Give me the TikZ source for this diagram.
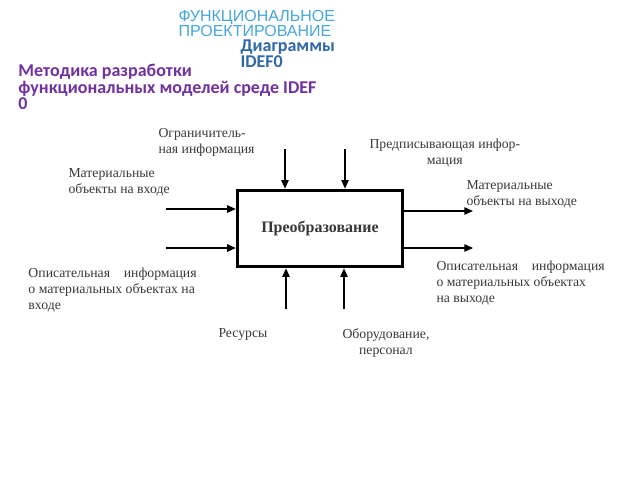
\documentclass[tikz,border=0pt]{standalone}
\usepackage{fontspec}
\setmainfont{Liberation Serif}
\newfontfamily\arialfont{Liberation Sans}
\newfontfamily\calibrifont{Carlito}
\usetikzlibrary{arrows.meta}
\definecolor{titleblue}{HTML}{45A6DA}
\definecolor{diagblue}{HTML}{2E68A8}
\definecolor{methpurple}{HTML}{7030A0}
\definecolor{labelgray}{HTML}{383838}

\tikzset{every picture/.style={line width=0.75pt}}
\tikzset{
    lbl/.style={anchor=north west,inner sep=0.75pt,align=left,text=labelgray,font=\fontsize{10.3}{12}\selectfont},
    arr/.style={line width=1.1pt,-{Triangle[length=6.5pt,width=5.5pt]}},
}

\begin{document}
\begin{tikzpicture}[x=0.75pt,y=0.75pt,yscale=-1,xscale=1]
        \useasboundingbox (0,0) rectangle (640,480);
        %Box
        \node [draw,line width=2.2pt,minimum width=124pt,minimum height=57.5pt,inner sep=0pt,font=\bfseries\fontsize{12}{14}\selectfont,text=labelgray] (preob) at (320,228.5) {Преобразование};

        %Titles
        \draw (177,9) node [anchor=north west][inner sep=0.75pt] [align=left,text=titleblue,font=\arialfont\fontsize{12}{11.3}\selectfont] (titletop) {ФУНКЦИОНАЛЬНОЕ\\ПРОЕКТИРОВАНИЕ};
        \draw (239,38) node [anchor=north west][inner sep=0.75pt] [align=left,text=diagblue,font=\calibrifont\bfseries\fontsize{13.5}{12.2}\selectfont] (titlediag) {Диаграммы\\IDEF0};
        \draw (17,63) node [anchor=north west][inner sep=0.75pt] [align=left,text=methpurple,font=\calibrifont\bfseries\fontsize{13.5}{12.4}\selectfont] (titlemeth) {Методика разработки\\функциональных моделей среде IDEF\\0};

        % Text Node
        \draw (157,127) node [lbl] (lbllimit) {Ограничитель-\\ная информация};
        % Text Node
        \draw (368,137) node [lbl,align=center] (lblpresc) {Предписывающая инфор-\\мация};
        % Text Node
        \draw (67,167) node [lbl] (lblmatin) {Материальные\\объекты на входе};
        % Text Node
        \draw (465,179) node [lbl] (lblmatout) {Материальные\\объекты на выходе};
        % Text Node
        \draw (27,266) node [lbl] (lbldescin) {Описательная\hspace{1em}информация\\о материальных объектах на\\входе};
        % Text Node
        \draw (435,259) node [lbl] (lbldescout) {Описательная\hspace{1em}информация\\о материальных объектах\\на выходе};
        % Text Node
        \draw (217,327) node [lbl] (lblres) {Ресурсы};
        % Text Node
        \draw (341,327) node [lbl,align=center] (lblequip) {Оборудование,\\персонал};

        %Arrow ends
        \coordinate (ctl1) at (285,149);
        \coordinate (ctl2) at (345,149);
        \coordinate (in1) at (166,209);
        \coordinate (in2) at (166,248);
        \coordinate (out1) at (473,211);
        \coordinate (out2) at (473,248);
        \coordinate (mech1) at (286,309);
        \coordinate (mech2) at (344,309);

        %Arrows
        \draw [arr] (ctl1) -- (ctl1 |- preob.north);
        \draw [arr] (ctl2) -- (ctl2 |- preob.north);
        \draw [arr] (in1) -- (in1 -| preob.west);
        \draw [arr] (in2) -- (in2 -| preob.west);
        \draw [arr] (out1 -| preob.east) -- (out1);
        \draw [arr] (out2 -| preob.east) -- (out2);
        \draw [arr] (mech1) -- (mech1 |- preob.south);
        \draw [arr] (mech2) -- (mech2 |- preob.south);
\end{tikzpicture}
\end{document}
